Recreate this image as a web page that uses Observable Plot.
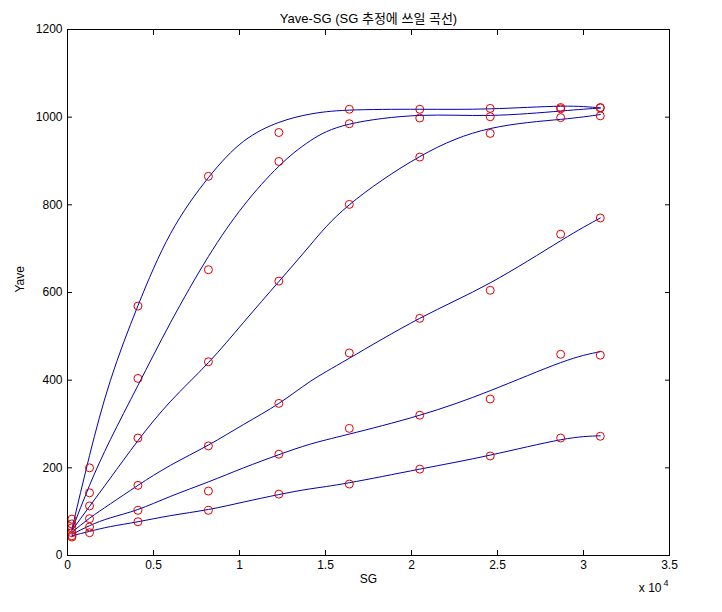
<!DOCTYPE html>
<html><head><meta charset="utf-8">
<script src="https://cdn.jsdelivr.net/npm/d3@7"></script>
<script src="https://cdn.jsdelivr.net/npm/@observablehq/plot@0.6"></script>
<style>body{margin:0;background:#fff}</style>
</head><body><div id="chart"></div>
<script>
// Measured points (red circles)
const sg = [256, 1280, 4096, 8192, 12288, 16384, 20480, 24576, 28672, 30976];
const yave1 = [83, 200, 569, 865, 965, 1018, 1018, 1020, 1022, 1022];
const yave2 = [72, 143, 404, 652, 899, 985, 998, 1001, 1019, 1021];
const yave3 = [63, 113, 268, 442, 626, 801, 909, 963, 999, 1003];
const yave4 = [52, 84, 160, 250, 347, 462, 541, 605, 733, 770];
const yave5 = [45, 65, 103, 147, 231, 290, 320, 357, 459, 457];
const yave6 = [42, 52, 77, 103, 140, 163, 197, 227, 268, 272];

// Fitted curves (blue lines)
const fitSG = [256, 1280, 2500, 4096, 6000, 8192, 10240, 12288, 14110, 16384, 20480, 24576, 28672, 30976];
const fit1 = [60, 228, 400, 570, 735, 862, 945, 988, 1007, 1016, 1018, 1019, 1025, 1021];
const fit2 = [58, 160, 265, 388, 532, 682, 798, 888, 946, 984, 1004, 1004, 1014, 1021];
const fit3 = [57, 112, 177, 262, 352, 440, 532, 625, 708, 800, 910, 974, 995, 1006];
const fit4 = [53, 85, 118, 160, 206, 252, 299, 347, 397, 450, 541, 622, 718, 770];
const fit5 = [48, 68, 86, 105, 135, 168, 200, 230, 254, 277, 320, 376, 440, 465];
const fit6 = [45, 55, 66, 77, 91, 105, 122, 139, 152, 166, 197, 229, 264, 273];

const xTicks = [0, 5000, 10000, 15000, 20000, 25000, 30000, 35000];
const yTicks = [0, 200, 400, 600, 800, 1000, 1200];
const titleText = "Yave-SG (SG 추정에 쓰일 곡선)";
const xLabel = "SG";
const yLabel = "Yave";

const pointSeries = [yave1, yave2, yave3, yave4, yave5, yave6];
const fitSeries = [fit1, fit2, fit3, fit4, fit5, fit6];
const points = [];
pointSeries.forEach((s, i) => sg.forEach((x, j) => points.push({series: i, sg: x, yave: s[j]})));
const fits = [];
fitSeries.forEach((s, i) => fitSG.forEach((x, j) => fits.push({series: i, sg: x, yave: s[j]})));

const font = "'Liberation Sans', 'Noto Sans CJK KR', sans-serif";
const chart = Plot.plot({
  width: 722, height: 612,
  marginLeft: 67, marginRight: 53, marginTop: 29, marginBottom: 57,
  style: {fontFamily: font, fontSize: "12px", background: "white", color: "black", overflow: "visible"},
  x: {domain: [0, 35000]},
  y: {domain: [0, 1200]},
  marks: [
    Plot.line(fits, {x: "sg", y: "yave", z: "series", stroke: "#0000b4", strokeWidth: 1, curve: "natural"}),
    Plot.dot(points, {x: "sg", y: "yave", r: 4, stroke: "#e00000", strokeWidth: 1, fill: "none"}),
    Plot.frame({stroke: "black", strokeWidth: 1}),
    Plot.axisX({anchor: "bottom", ticks: xTicks, tickSize: -5, tickPadding: 10, tickFormat: d => String(d / 1e4), label: null}),
    Plot.axisX({anchor: "top", ticks: xTicks, tickSize: -5, tickFormat: () => "", label: null}),
    Plot.axisY({anchor: "left", ticks: yTicks, tickSize: -5, tickPadding: 10, tickFormat: d => String(d), label: null}),
    Plot.axisY({anchor: "right", ticks: yTicks, tickSize: -5, tickFormat: () => "", label: null}),
    Plot.text([titleText], {frameAnchor: "top", dy: -16, text: d => d, fontSize: 13}),
    Plot.text([xLabel], {frameAnchor: "bottom", dy: 27, text: d => d, fontSize: 12}),
    Plot.text([yLabel], {frameAnchor: "left", dx: -47, rotate: -90, text: d => d, fontSize: 12}),
    Plot.text(["x 10"], {frameAnchor: "bottom-right", textAnchor: "end", dx: -8, dy: 36, text: d => d, fontSize: 12}),
    Plot.text(["4"], {frameAnchor: "bottom-right", textAnchor: "end", dx: -1, dy: 30, text: d => d, fontSize: 9})
  ]
});
document.getElementById("chart").appendChild(chart);
</script>
</body></html>
